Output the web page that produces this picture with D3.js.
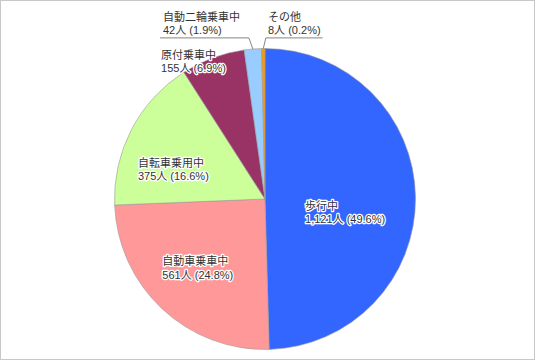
<!DOCTYPE html>
<html><head><meta charset="utf-8">
<script src="https://cdn.jsdelivr.net/npm/d3@7/dist/d3.min.js"></script>
<style>
html,body{margin:0;padding:0;background:#fff;}
svg{display:block;}
text{font-family:"Liberation Sans","Noto Sans CJK JP",sans-serif;font-size:11px;fill:#333;}
.halo{stroke:#fff;stroke-width:2.5px;stroke-linejoin:round;paint-order:stroke;}
</style></head>
<body>
<svg id="c" width="535" height="360"></svg>
<script>
const categories = ["歩行中","自動車乗車中","自転車乗用中","原付乗車中","自動二輪乗車中","その他"];
const values = [1121, 561, 375, 155, 42, 8];
const percents = ["49.6%","24.8%","16.6%","6.9%","1.9%","0.2%"];
const colors = ["#3366FF","#FF9999","#CCFF99","#993366","#99CCFF","#FF9900"];

// label layout: [radius fraction, angle shift (deg), outside?]
const labelLayout = [
  {k:0.54, da:10.5, out:false},
  {k:0.64, da:1.2, out:false},
  {k:0.64, da:-9.6, out:false},
  {k:1.03, da:-7.2, out:false},
  {out:true, side:"left", x:163},
  {out:true, side:"right", x:268}
];

const W=535,H=360,cx=265,cy=199,R=150.5;
const svg=d3.select("#c");
svg.append("rect").attr("x",0.5).attr("y",0.5).attr("width",W-1).attr("height",H-1)
  .attr("fill","#fff").attr("stroke","#c8c8c8");

const pie=d3.pie().sort(null).value(d=>d.v);
const data=categories.map((c,i)=>({c,v:values[i],p:percents[i],col:colors[i],i}));
const arcs=pie(data);
const arc=d3.arc().innerRadius(0).outerRadius(R);
const g=svg.append("g").attr("transform",`translate(${cx},${cy})`);
g.selectAll("path").data(arcs).join("path").attr("d",arc)
  .attr("fill",d=>d.data.col).attr("stroke","#9a9a9a").attr("stroke-width",0.6);

const fmt=d3.format(",");
const lh=13.4;
function addLabel(x,y,l1,l2){
  const a=svg.append("text").attr("class","halo").attr("x",x).attr("y",y).text(l1);
  const b=svg.append("text").attr("class","halo").attr("x",x).attr("y",y+lh).text(l2);
  return [a,b];
}
arcs.forEach((d,i)=>{
  const L=labelLayout[i];
  const line1=d.data.c, line2=`${fmt(d.data.v)}人 (${d.data.p})`;
  if(!L.out){
    const mid=(d.startAngle+d.endAngle)/2 + L.da*Math.PI/180;
    const r=R*L.k;
    const px=cx+r*Math.sin(mid), py=cy-r*Math.cos(mid);
    const [a,b]=addLabel(0,0,line1,line2);
    const w=Math.max(a.node().getComputedTextLength(),b.node().getComputedTextLength());
    const x=px-w/2, y=py-lh/2+4;
    a.attr("x",x).attr("y",y); b.attr("x",x).attr("y",y+lh);
  } else {
    const mid=(d.startAngle+d.endAngle)/2;
    const ax=cx+R*Math.sin(mid), ay=cy-R*Math.cos(mid);
    const base1=20.5;
    const [a,b]=addLabel(L.x,base1,line1,line2);
    const w=Math.max(a.node().getComputedTextLength(),b.node().getComputedTextLength());
    const uy=base1+lh+4;
    let x0,x1,ex;
    if(L.side==="left"){ ex=ax-4; x0=L.x-3; x1=Math.max(L.x+w+2,ex); }
    else { ex=ax+2.5; x0=ex; x1=L.x+w+2; }
    svg.append("path").attr("d",`M${x0},${uy}H${x1}`).attr("stroke","#666").attr("stroke-width",0.8).attr("fill","none");
    svg.append("path").attr("d",`M${ex},${uy}L${ax},${ay}`).attr("stroke","#666").attr("stroke-width",0.8).attr("fill","none");
  }
});
</script>
</body></html>
